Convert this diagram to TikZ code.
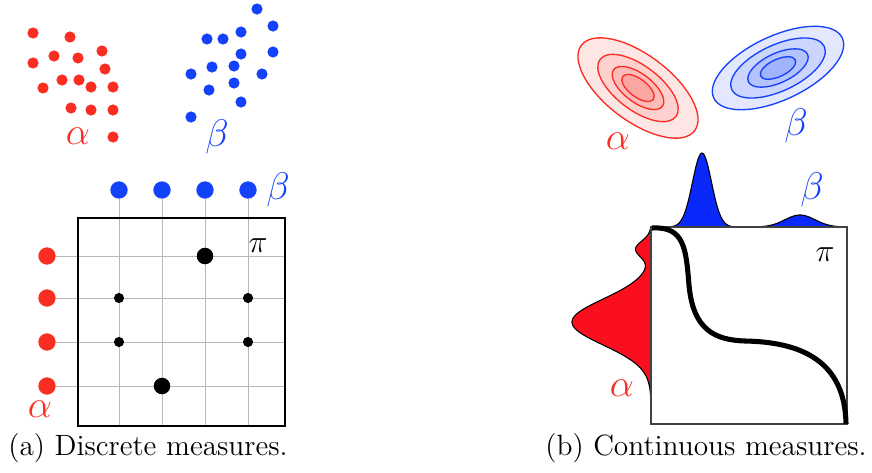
\documentclass[tikz,border=0pt]{standalone}
\usepackage{amsmath}
\usepackage{tikz}
\usetikzlibrary{arrows.meta,positioning}
\definecolor{ptred}{RGB}{250,45,35}
\definecolor{ptblue}{RGB}{20,65,250}
\definecolor{denred}{RGB}{250,15,30}
\definecolor{denblue}{RGB}{10,40,250}

\begin{document}
\begin{tikzpicture}[x=.375pt,y=-.375pt,
declare function={ga(\y)=79*exp(-min(((\y-322)/23)^2/2,9))+15*exp(-min(((\y-249)/8)^2/2,9));
gb(\x)=74*exp(-min(((\x-702)/9.5)^2/2,9))+12*exp(-min(((\x-800)/15)^2/2,9));},
rdot/.style={circle,fill=ptred,inner sep=0pt,minimum size=6.5pt},
bdot/.style={circle,fill=ptblue,inner sep=0pt,minimum size=6.5pt},
bigmass/.style={circle,fill=black,inner sep=0pt,minimum size=6.2pt},
smallmass/.style={circle,fill=black,inner sep=0pt,minimum size=3.8pt},
gline/.style={draw=gray!55,line width=.3pt},
frame/.style={draw=black,line width=.7pt},
alab/.style={text=ptred,font=\Large,inner sep=0pt},
blab/.style={text=ptblue,font=\Large,inner sep=0pt},
pilab/.style={font=\large,inner sep=0pt},
captext/.style={font=\fontsize{11}{13}\selectfont,inner sep=0pt}]
\useasboundingbox(0,0)rectangle(872,472);

\foreach \p in {(33,33),(70,37),(54,56),(78,58),(102,51),(33,63),(105,69),(43,88),(62,80),(79,80),(91,87),(113,87),(71,108),(91,110),(113,110),(113,137)}
  \fill[ptred]\p circle(2.1pt);
\foreach \p in {(257,9),(273,26),(207,39),(223,39),(241,32),(241,54),(273,52),(212,67),(234,66),(191,74),(262,74),(209,90),(234,83),(241,102),(191,117)}
  \fill[ptblue]\p circle(2.1pt);
\node[alab](a0)at(78,136){$\alpha$};
\node[blab](b0)at(217,137){$\beta$};

\coordinate(pa)at(78,218);
\coordinate(pb)at(285,426);
\foreach \i/\y in {1/256,2/298,3/342,4/386}{
  \node[rdot](a\i)at(47,\y){};
  \draw[gline](a\i) -- (a\i -| pb);}
\foreach \i/\x in {1/119,2/162,3/205,4/248}{
  \node[bdot](b\i)at(\x,190){};
  \draw[gline](b\i) -- (b\i |- pb);}
\draw[frame](pa)rectangle(pb);
\node[bigmass](m1)at(205,256){};
\node[smallmass](m2)at(119,298){};
\node[smallmass](m3)at(248,298){};
\node[smallmass](m4)at(119,342){};
\node[smallmass](m5)at(248,342){};
\node[bigmass](m6)at(162,386){};
\node[alab](a5)at(40,409){$\alpha$};
\node[blab](b5)at(278,190){$\beta$};
\node[pilab](pi1)at(258,246){$\pi$};
\node[captext](capa)at(148,448){(a) Discrete measures.};

\foreach \s/\c in {1/12,.67/22,.43/32,.27/42}
  \filldraw[draw=ptred,fill=ptred!\c,line width=.5pt,rotate around={-37:(638,88)}](638,88)ellipse({26.6pt*\s} and {12.4pt*\s});
\foreach \s/\c in {1/12,.72/22,.46/32,.27/40}
  \filldraw[draw=ptblue,fill=ptblue!\c,line width=.5pt,rotate around={25:(778,68)}](778,68)ellipse({26.6pt*\s} and {12pt*\s});
\node[alab](a6)at(618,141){$\alpha$};
\node[blab](b6)at(796,126){$\beta$};

\coordinate(qa)at(651,227);
\coordinate(qb)at(847,424);
\filldraw[fill=denblue,draw=black,line width=.4pt,domain=655:846,samples=160](655,227) -- plot(\x,{227-gb(\x)}) -- cycle;
\filldraw[fill=denred,draw=black,line width=.4pt,domain=227:395,samples=160](651,227) -- plot({651-ga(\x)},\x) -- cycle;
\draw[draw=black!75,line width=.5pt](qa)rectangle(qb);
\draw[line width=1.9pt](652,228) .. controls (685,226) and (686,250) .. (689,285)
  .. controls (693,330) and (715,340) .. (745,341) .. controls (800,342) and (845,360) .. (846,424);
\node[alab](a7)at(622,388){$\alpha$};
\node[blab](b7)at(812,190){$\beta$};
\node[pilab](pi2)at(825,255){$\pi$};
\node[captext](capb)at(706,448){(b) Continuous measures.};
\end{tikzpicture}
\end{document}
